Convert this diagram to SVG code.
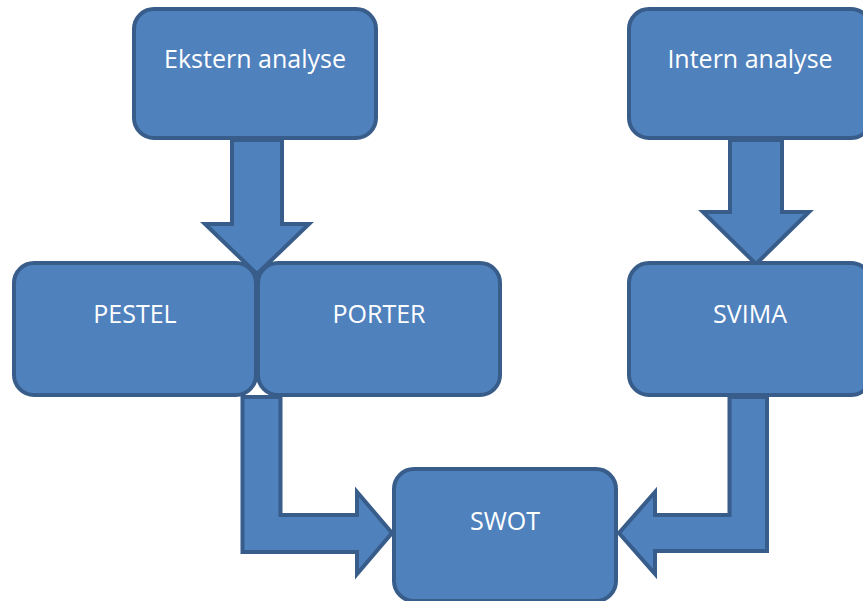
<svg xmlns="http://www.w3.org/2000/svg" width="863" height="601" viewBox="0 0 863 601">
<style>
.box{fill:#4F81BD;stroke:#385D8A;stroke-width:4}
.arr{fill:#4F81BD;stroke:#385D8A;stroke-width:4;stroke-linejoin:miter}
.lbl{font-family:"Open Sans","Liberation Sans",sans-serif;font-size:25px;fill:#FFFFFF;text-anchor:middle}
</style>
<rect width="863" height="601" fill="#FFFFFF"/>
<g id="connectors">
<path class="arr" d="M232,140 L282,140 L282,224 L309,224 L257,274 L205,224 L232,224 Z"/>
<path class="arr" d="M730,140 L782,140 L782,212 L809,212 L756,264 L703,212 L730,212 Z"/>
<path class="arr" d="M242.5,397 L280.5,397 L280.5,515 L357,515 L357,492 L392,533 L357,574 L357,552 L242.5,552 Z"/>
<path class="arr" d="M767,397 L729.5,397 L729.5,515 L655,515 L655,492 L619,533 L655,574 L655,551 L767,551 Z"/>
</g>
<g id="ekstern"><rect class="box" x="134" y="9" width="242" height="129" rx="20"/><text class="lbl" x="255" y="68">Ekstern analyse</text></g>
<g id="intern"><rect class="box" x="629" y="9" width="242" height="129" rx="20"/><text class="lbl" x="750" y="68">Intern analyse</text></g>
<g id="pestel"><rect class="box" x="14" y="263" width="242" height="132" rx="20"/><text class="lbl" x="135" y="323">PESTEL</text></g>
<g id="porter"><rect class="box" x="258" y="263" width="242" height="132" rx="20"/><text class="lbl" x="379" y="323">PORTER</text></g>
<g id="svima"><rect class="box" x="629" y="263" width="242" height="132" rx="20"/><text class="lbl" x="750" y="323">SVIMA</text></g>
<g id="swot"><rect class="box" x="394" y="469" width="222" height="132" rx="20"/><text class="lbl" x="505" y="530">SWOT</text></g>
</svg>
